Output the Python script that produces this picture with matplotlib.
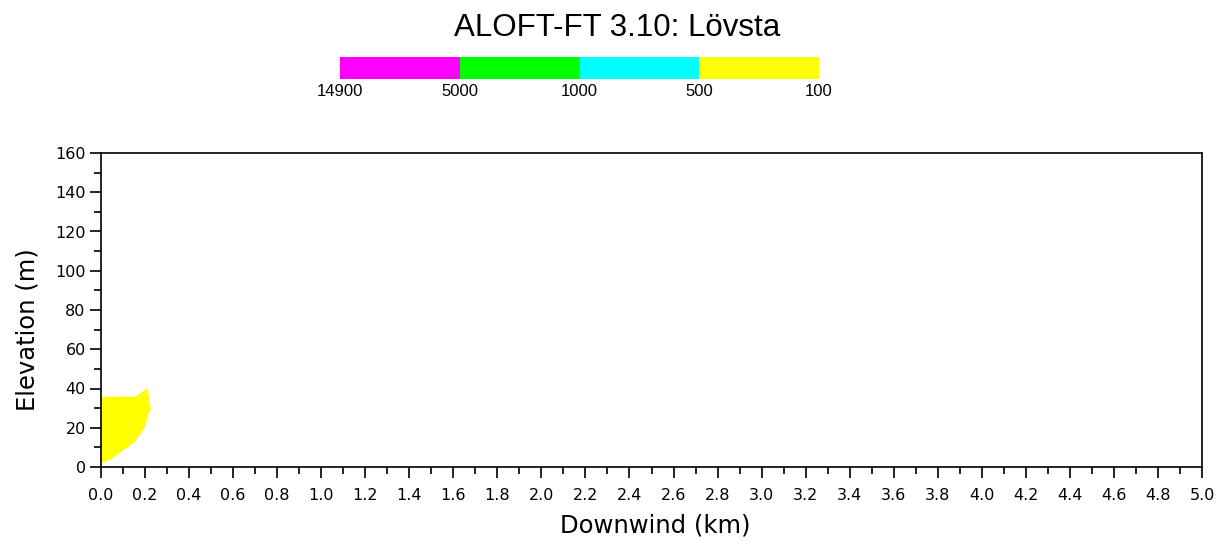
import matplotlib
matplotlib.use("Agg")
import matplotlib.pyplot as plt
from matplotlib.ticker import MultipleLocator, FormatStrFormatter
import numpy as np

# Plume outline above 100 ppm threshold (downwind km, elevation m)
plume_x = [0.0, 0.04, 0.155, 0.20, 0.215, 0.226, 0.212, 0.154, 0.0]
plume_y = [1.9, 3.6, 12.9, 20.5, 27.4, 29.0, 40.1, 35.8, 35.8]

level_labels = ["14900", "5000", "1000", "500", "100"]
level_colors = ["#ff00ff", "#00ff00", "#00ffff", "#ffff00"]

title = "ALOFT-FT 3.10: Lövsta"

W, H = 1221, 542
fig = plt.figure(figsize=(W / 100, H / 100), dpi=100)
fig.patch.set_facecolor("white")

# Main plot area
ax = fig.add_axes([101 / W, 1 - 467 / H, (1202 - 101) / W, (467 - 153) / H])
ax.fill(plume_x, plume_y, color=level_colors[3], linewidth=0)
ax.set_xlim(0, 5)
ax.set_ylim(0, 160)
ax.xaxis.set_major_locator(MultipleLocator(0.2))
ax.xaxis.set_minor_locator(MultipleLocator(0.1))
ax.yaxis.set_major_locator(MultipleLocator(20))
ax.yaxis.set_minor_locator(MultipleLocator(10))
ax.xaxis.set_major_formatter(FormatStrFormatter("%.1f"))
ax.tick_params(axis="both", which="major", direction="out", length=8, width=1.2,
               labelsize=11.5, color="black")
ax.tick_params(axis="both", which="minor", direction="out", length=5, width=1.2)
ax.tick_params(axis="x", pad=7)
ax.tick_params(axis="y", pad=3)
for s in ax.spines.values():
    s.set_linewidth(1.2)
for lab in ax.get_xticklabels() + ax.get_yticklabels():
    lab.set_family("DejaVu Sans")

# Axis titles
fig.text(655 / W, 1 - 525 / H, "Downwind (km)", ha="center", va="center",
         fontsize=17.5, family="DejaVu Sans")
fig.text(28 / W, 1 - 330 / H, "Elevation (m)", ha="center", va="center",
         rotation=90, fontsize=17.5, family="DejaVu Sans")

# Colour legend bar
cax = fig.add_axes([340 / W, 1 - 79 / H, (819 - 340) / W, (79 - 57) / H])
for i, c in enumerate(level_colors):
    cax.axvspan(i, i + 1, color=c, linewidth=0)
cax.set_xlim(0, len(level_colors))
cax.set_ylim(0, 1)
cax.set_yticks([])
cax.set_xticks(np.arange(len(level_labels)))
cax.set_xticklabels(level_labels, fontsize=12, family="Liberation Sans")
cax.tick_params(axis="x", length=0, pad=3.5)
for s in cax.spines.values():
    s.set_visible(False)

fig.text(617 / W, 1 - 28 / H, title, ha="center", va="center",
         fontsize=22.5, family="Liberation Sans")

fig.savefig("out.png", dpi=100, facecolor="white")
